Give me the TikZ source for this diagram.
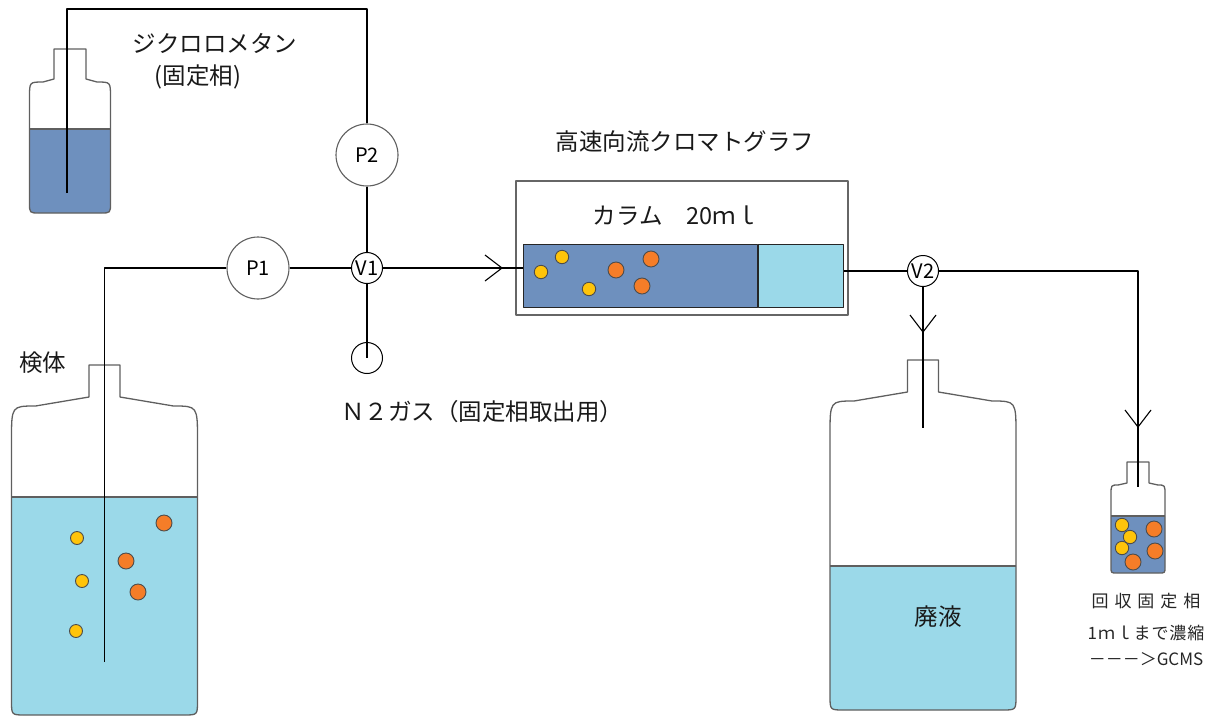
\documentclass[tikz,border=0pt]{standalone}
\usepackage{fontspec}
\setmainfont{Noto Sans CJK JP}
\usetikzlibrary{positioning}
\definecolor{phaseblue}{RGB}{110,144,190}
\definecolor{samplecyan}{RGB}{155,217,233}
\definecolor{dotyellow}{RGB}{255,196,10}
\definecolor{dotorange}{RGB}{245,125,40}
\definecolor{glassgray}{RGB}{95,95,95}
% 瓶の輪郭: 口 (#1,#2), 肩 (#3,#4), 胴 (#5,#6), 底 #7, 角の丸み #8
\newcommand{\bottle}[8]{(-#1,0) -- (-#1,#2) -- (-#3,#4) .. controls (-#5,#4) .. (-#5,#6)
  -- (-#5,{#7-#8}) .. controls (-#5,#7) .. ({#8-#5},#7) -- ({#5-#8},#7)
  .. controls (#5,#7) .. (#5,{#7-#8}) -- (#5,#6) .. controls (#5,#4) .. (#3,#4)
  -- (#1,#2) -- (#1,0) -- cycle}

\begin{document}
\begin{tikzpicture}[x=1pt,y=-1pt,line join=round,
  tube/.style={black,line width=1.1pt},
  glass/.style={glassgray,line width=1.3pt},
  pump/.style={circle,draw=glassgray,line width=1.1pt,fill=white,minimum size=62pt,
    inner sep=0pt,font=\fontsize{20}{22}\selectfont},
  valve/.style={circle,draw=black,line width=1pt,fill=white,minimum size=31pt,
    inner sep=0pt,font=\fontsize{20}{22}\selectfont},
  lbl/.style={font=\fontsize{23.5}{28}\selectfont,text=black!90},
  note/.style={text=black!85},
  yel/.style={fill=dotyellow,draw=black!70,line width=0.9pt},
  ora/.style={fill=dotorange,draw=black!70,line width=0.9pt},
  chev/.pic={\draw[tube] (-17,-13) -- (0,0) -- (-17,13);}]
\useasboundingbox (0,0) rectangle (1218,716);
% ジクロロメタンの瓶
\begin{scope}[shift={(70,49)}]
  \begin{scope}
    \clip \bottle{16}{30}{27}{33}{40.5}{48}{164}{10};
    \fill[phaseblue] (-50,80) rectangle (50,170);
  \end{scope}
  \draw[glass] (-40.5,80) -- (40.5,80);
  \draw[glass] \bottle{16}{30}{27}{33}{40.5}{48}{164}{10};
  \coordinate (dcmend) at (-3,144);
\end{scope}
% 検体の瓶
\begin{scope}[shift={(104.5,365)}]
  \begin{scope}
    \clip \bottle{15.5}{32}{69}{41}{93}{75}{350}{14};
    \fill[samplecyan] (-100,132) rectangle (100,360);
  \end{scope}
  \draw[glass] (-93,132) -- (93,132);
  \draw[glass] \bottle{15.5}{32}{69}{41}{93}{75}{350}{14};
  \coordinate (smpend) at (0,297);
\end{scope}
\foreach \p in {(77,538),(82,581),(76,631)} \filldraw[yel] \p circle (6.5);
\foreach \p in {(164,523),(126,561),(138,592)} \filldraw[ora] \p circle (8);
% 廃液の瓶
\begin{scope}[shift={(923,360)}]
  \begin{scope}
    \clip \bottle{15.5}{32}{69}{41}{93}{75}{350}{14};
    \fill[samplecyan] (-100,206) rectangle (100,360);
  \end{scope}
  \draw[glass] (-93,206) -- (93,206);
  \draw[glass] \bottle{15.5}{32}{69}{41}{93}{75}{350}{14};
  \coordinate (wasteend) at (0,68);
\end{scope}
% 回収瓶
\begin{scope}[shift={(1138,462)}]
  \begin{scope}
    \clip \bottle{11}{21}{20}{23}{27}{33}{111}{6};
    \fill[phaseblue] (-30,54) rectangle (30,120);
  \end{scope}
  \draw[glass] (-27,54) -- (27,54);
  \coordinate (recend) at (0,25);
\end{scope}
\foreach \p in {(1122,525),(1130,537),(1122,548)} \filldraw[yel] \p circle (6.7);
\foreach \p in {(1154,529),(1155,551),(1133,562)} \filldraw[ora] \p circle (8);
\begin{scope}[shift={(1138,462)}]
  \draw[glass] \bottle{11}{21}{20}{23}{27}{33}{111}{6};
\end{scope}
% カラム
\node[draw=black!60,line width=2pt,minimum width=332pt,minimum height=134pt,
  inner sep=0pt] (column) at (682,247.5) {};
\node[draw=black!85,line width=1.1pt,fill=phaseblue,minimum width=234pt,
  minimum height=63pt,inner sep=0pt,anchor=north west] (packed) at (523,244) {};
\node[draw=black!85,line width=1.1pt,fill=samplecyan,minimum width=85pt,
  minimum height=63pt,inner sep=0pt,anchor=west] (tail) at (packed.east) {};
\foreach \p in {(541,272),(562,257),(589,289)} \filldraw[yel] \p circle (6.7);
\foreach \p in {(616,270),(651,259),(642,286)} \filldraw[ora] \p circle (8);
% ポンプとバルブ
\node[pump] (P2) at (367,155) {P2};
\node[pump] (P1) at (258,268) {P1};
\node[valve] (V1) at (367,268) {V1};
\node[valve] (V2) at (923,271) {V2};
\node[valve] (N2) at (367,358) {};
% 配管
\draw[tube] (smpend) |- (P1);
\draw[tube] (P1) -- (V1);
\draw[tube] (dcmend) -- ++(0,-184) -| (P2);
\draw[tube] (P2) -- (V1);
\draw[tube] (V1) -- (N2.center);
\draw[tube] (V1) -- (V1 -| packed.west);
\pic at (502,268) {chev};
\draw[tube] (tail.east |- V2) -- (V2);
\draw[tube] (V2) -| (recend);
\draw[tube] (V2) -- (wasteend);
\pic[rotate=-90] at (923,332) {chev};
\pic[rotate=-90] at (1138,427) {chev};
% ラベル
\node[lbl] (dcm) at (215,43) {ジクロロメタン};
\node[lbl] (dcmsub) at (198,77) {(固定相)};
\node[lbl] (hsccc) at (685,142) {高速向流クロマトグラフ};
\node[lbl] (colname) at (676,216) {カラム　20ｍｌ};
\node[lbl] (n2gas) at (482,412) {Ｎ２ガス（固定相取出用）};
\node[lbl] (sample) at (43,363) {検体};
\node[lbl] (waste) at (938,617) {廃液};
\node[note,font=\fontsize{17}{20}\selectfont\addfontfeature{LetterSpace=35}] (recov) at (1146,601) {回収固定相};
\node[note,font=\fontsize{17}{20}\selectfont\addfontfeature{LetterSpace=5}] (conc) at (1146,633) {1ｍｌまで濃縮};
\node[note,font=\fontsize{17}{20}\selectfont] (gcms) at (1146,659) {－－－＞GCMS};
\end{tikzpicture}
\end{document}
